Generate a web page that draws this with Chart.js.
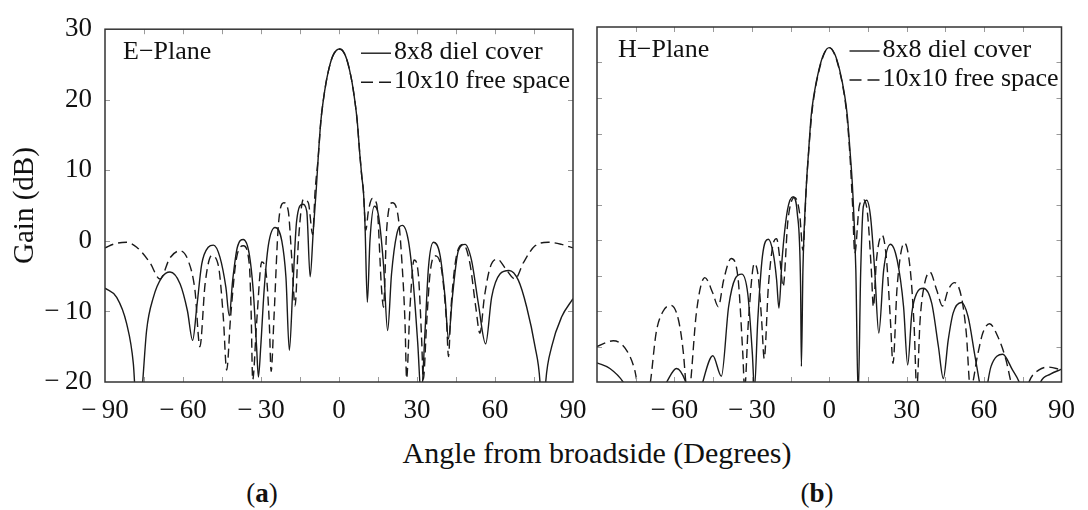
<!DOCTYPE html>
<html lang="en">
<head>
<meta charset="UTF-8">
<title>Gain | E-Plane / H-Plane</title>
<script src="https://cdn.jsdelivr.net/npm/chart.js"></script>
<style>
  body { margin: 0; background: #fff; width: 1088px; height: 510px; overflow: hidden; position: relative;
         font-family: "Liberation Serif", "DejaVu Serif", serif; color: #111; }
  canvas { position: absolute; top: 0; }
  #chartE { left: 0; }
  #chartH { left: 560px; }
  .lbl { position: absolute; white-space: nowrap; transform: translate(-50%, -50%); }
</style>
</head>
<body>
<canvas id="chartE" width="600" height="422"></canvas>
<canvas id="chartH" width="528" height="422"></canvas>
<div class="lbl" style="left:597px; top:453px; font-size:30px">Angle from broadside (Degrees)</div>
<div class="lbl" style="left:262px; top:493px; font-size:27px">(<b>a</b>)</div>
<div class="lbl" style="left:817px; top:493px; font-size:27px">(<b>b</b>)</div>
<script>
// values (angle in degrees, gain in dB)
const eCoverAngle = [-90, -85.5, -81.7, -79.1, -77.2, -75.5, -74, -71.4, -68.2, -65, -61.1, -58.3, -56.3, -54.7, -52.8, -50.3, -48.3, -45.8, -43.5, -42.2, -40.9, -39.1, -36.8, -34.5, -33, -31.7, -31, -30.1, -28.8, -27.2, -24.6, -22, -20.4, -19.1, -17.8, -16.3, -14, -12.4, -11.1, -9.9, -8.8, -8, -7, -6, -5, -4, -3, -2, -1, 0, 1, 2, 3, 4, 5, 6, 7, 8, 8.8, 9.4, 10, 10.9, 11.9, 13.6, 15.1, 17.1, 18.7, 20.2, 22.2, 24.4, 26.7, 28.6, 30.3, 31.6, 33.1, 34.4, 36.3, 38.8, 40.8, 42.1, 43.6, 45.9, 48.5, 51, 53.6, 56.4, 58.7, 61.9, 65.4, 69, 72.2, 75.4, 77.3, 78.3, 79.5, 81.8, 85.6, 90];
const eCoverGain = [-6.7, -8, -11.7, -17.4, -28, -20, -12.7, -8, -5.2, -4.4, -6.1, -9.9, -14.1, -9.4, -3.3, -0.9, -0.6, -2.3, -6.6, -10.6, -5.6, -0.9, 0.2, -1.9, -7, -15, -19.3, -15, -7, -0.7, 1.9, 0, -5.2, -15.5, -7, 2.8, 5.2, 4.2, -5.1, 1.4, 7, 11.8, 16.9, 20, 22.4, 24.2, 25.6, 26.5, 27, 27.2, 27.1, 26.6, 25.7, 24.3, 22.5, 20.1, 17, 12.3, 9, 7, 2.3, -8.7, 0, 4.9, 3.8, -3.3, -12.7, -4.7, 0.9, 2.2, 0, -6.1, -14.6, -22, -12.7, -3.8, -0.2, -1.9, -8, -13.9, -8, -1.4, -0.5, -2.8, -8.9, -14.6, -8, -4.7, -4.2, -5.6, -9.4, -15, -20, -28, -20, -15, -10.8, -8.2];

const eFreeAngle = [-90, -86.2, -81.7, -77.8, -72.7, -68.9, -65, -61.1, -58, -55.4, -53.5, -51.5, -49, -46.4, -44.5, -43.2, -41.7, -39.4, -36.8, -34.5, -33.8, -33.2, -31.7, -29.7, -28, -26.8, -26.1, -25, -23.3, -21.2, -19.5, -18.2, -16.9, -15.6, -13.7, -11.8, -10.1, -9.2, -8, -7, -6, -5, -4, -3, -2, -1, 0, 1, 2, 3, 4, 5, 6, 7, 8, 8.8, 9.4, 10.3, 11.3, 12.8, 14.5, 16.4, 17.1, 18.3, 20.5, 22.8, 24.1, 25.4, 26, 27.3, 28.9, 30.5, 31.8, 32.4, 33.7, 35, 36.9, 39.5, 41.4, 42.1, 43.1, 45.3, 47.8, 50.4, 52.6, 54.2, 55.9, 58.1, 61, 63.8, 67.7, 70.9, 75.4, 80.5, 85.6, 90];
const eFreeGain = [-1, -0.4, -0.2, -0.9, -3.1, -5.4, -2.4, -1.4, -2.8, -7, -15, -6.1, -2.1, -3.5, -10.8, -18.3, -10.8, -2.4, -0.7, -3.3, -10, -19.7, -11.7, -3, -4.7, -11.7, -18.5, -10.8, 2.3, 5.4, 4.2, -2.3, -9.2, 0, 5.9, 5.4, 0.9, 7, 11.8, 16.9, 20, 22.4, 24.2, 25.6, 26.5, 27, 27.2, 27.1, 26.6, 25.7, 24.3, 22.5, 20.1, 17, 12.3, 9, 7, 1.5, 4.2, 6, 5.2, -7, -9.4, 1.4, 5.4, 3.3, -2.4, -11.7, -19.5, -9.4, -2.7, -4.7, -14.1, -19.7, -11.7, -4.7, -2.1, -4.2, -11.7, -16.4, -9.4, -1.9, -0.5, -3.3, -9.4, -13.1, -8, -3.8, -2.6, -3.8, -5.4, -3.1, -0.7, -0.2, -0.5, -1];

const hCoverAngle = [-90, -85, -79.9, -72, -63, -59.2, -55.6, -52, -49, -45.1, -41.8, -39, -36.4, -33.9, -31.6, -29.8, -29, -27.7, -25.9, -23.6, -21.7, -20.4, -19.5, -18.3, -16.2, -14, -12.4, -11.1, -10.8, -10.2, -8.9, -8, -7, -6, -4, -2, 0, 2, 4, 6, 7, 8, 9, 10.3, 11.2, 12.2, 13.2, 14.5, 16, 17.6, 19.2, 21.1, 23.7, 26.3, 28.8, 30.4, 32, 33.9, 36.5, 39.7, 42.3, 44.2, 46.1, 48, 51.2, 53.8, 56.3, 58.2, 59.5, 62.7, 67.2, 71, 73.6, 78, 81.9, 85.7, 90];
const hCoverGain = [-17.3, -18.1, -20, -26, -20, -18.1, -20, -25, -20, -16.3, -19.2, -9.4, -5.4, -4.8, -7.5, -16, -21, -11.3, -2.3, 0.1, -1.9, -5.6, -9.6, -2.8, 4.2, 6.1, 3.8, -6.6, -17.8, -4.2, 7.5, 12.5, 17.5, 20.3, 24, 26.3, 27.1, 26.3, 24, 20.3, 17.5, 12.8, 7.5, -4.2, -22, -4.2, 4.7, 5.6, 3.3, -4.2, -13.1, -4.2, -0.6, -2.8, -9.4, -17.6, -10.3, -7.5, -6.8, -8.9, -15, -19.5, -14.1, -10.3, -8.8, -10.8, -16, -20, -23, -17.8, -16.1, -18.3, -20, -25, -20, -18.9, -18.2];

const hFreeAngle = [-90, -83.7, -78.6, -75.4, -74.5, -72, -69.3, -67.1, -64.5, -61.4, -58.4, -56.5, -55.6, -54.6, -53.7, -51.5, -48.2, -45.1, -43, -40.9, -38, -35.4, -33.5, -32.8, -31.3, -29, -27.5, -26.2, -25.2, -23.6, -21.7, -20.4, -19.1, -17.9, -16, -13.4, -11.5, -10.2, -8.9, -8, -7, -6, -4, -2, 0, 2, 4, 6, 7, 8, 9, 9.9, 11.6, 13.2, 14.8, 16.3, 17.1, 18.3, 20.5, 22.2, 23.7, 24.7, 26.3, 29.1, 31.4, 32.9, 33.9, 35.2, 36.7, 39, 41.6, 43.9, 46.1, 48.6, 51.2, 53.1, 54.7, 57.6, 59.5, 62.1, 65.3, 68.5, 70.4, 74, 77.4, 81.3, 85.1, 90];
const hFreeGain = [-15, -14.2, -15.5, -18.3, -20, -25, -20, -13.1, -10.1, -9.2, -11.3, -16, -20, -23, -20, -10.3, -5.3, -7.5, -9.4, -5.6, -2.6, -5.2, -16, -21, -11.3, -3.3, -5.2, -11.3, -16.7, -6.6, -0.5, 0.2, -2.8, -6.6, 2.8, 6, 3.8, -1.4, 7.5, 12.3, 16.9, 20, 23.8, 26.2, 27.1, 26.2, 23.8, 20, 16.9, 12, 5.2, -1.9, 4.7, 5.7, 3.8, -4.2, -9.4, -2.8, 0.7, -2.8, -11.3, -17.4, -6.6, -0.4, -4.2, -12.2, -21, -11.3, -6.6, -4.5, -7, -9.3, -7, -6, -8, -13.1, -21, -16, -13.1, -11.8, -13.6, -16.9, -20, -25, -20, -18.3, -17.9, -18.3];

const xLabelValues = [-90, -60, -30, 0, 30, 60, 90];
const yLabelValues = [-20, -10, 0, 10, 20, 30];

function pts(ang, gain) {
    return ang.map(function (a, i) { return { x: a, y: gain[i] }; });
}
function fmt(v) {
    return v < 0 ? '\u2212\u2009' + Math.abs(v) : String(v);
}

// frame, inner ticks, panel name and legend inside the plot box
const boxPlugin = {
    id: 'box',
    afterDraw(chart, args, opts) {
        const ctx = chart.ctx;
        const a = chart.chartArea;
        const x = chart.scales.x, y = chart.scales.y;
        ctx.save();
        ctx.strokeStyle = '#9a9a9a';
        ctx.lineWidth = 1;
        ctx.beginPath();
        x.ticks.forEach(function (t) {
            const px = Math.round(x.getPixelForValue(t.value)) + 0.5;
            if (px < a.left + 2 || px > a.right - 2) return;
            ctx.moveTo(px, a.bottom); ctx.lineTo(px, a.bottom - 5);
            ctx.moveTo(px, a.top); ctx.lineTo(px, a.top + 5);
        });
        y.ticks.forEach(function (t) {
            const py = Math.round(y.getPixelForValue(t.value)) + 0.5;
            if (py < a.top + 2 || py > a.bottom - 2) return;
            ctx.moveTo(a.left, py); ctx.lineTo(a.left + 5, py);
            ctx.moveTo(a.right, py); ctx.lineTo(a.right - 5, py);
        });
        ctx.stroke();

        ctx.strokeStyle = '#333';
        ctx.lineWidth = 1.5;
        ctx.strokeRect(a.left, a.top, a.right - a.left, a.bottom - a.top);

        ctx.fillStyle = '#111';
        ctx.font = '26px "Liberation Serif"';
        ctx.textBaseline = 'middle';
        ctx.fillText(opts.plane, a.left + opts.planeDx, a.top + 23);

        chart.data.datasets.forEach(function (ds, i) {
            const yy = a.top + 23 + i * 29;
            const x0 = a.right - 212;
            ctx.strokeStyle = '#1a1a1a';
            ctx.lineWidth = 1.4;
            ctx.setLineDash(ds.borderDash ? [12, 6] : []);
            ctx.beginPath();
            ctx.moveTo(x0, yy + 1); ctx.lineTo(x0 + 30, yy + 1);
            ctx.stroke();
            ctx.setLineDash([]);
            ctx.fillText(ds.label, x0 + 33, yy);
        });
        ctx.restore();
    }
};

function makeChart(id, cover, free, opt) {
    const tickFont = { family: 'Liberation Serif', size: 27 };
    return new Chart(document.getElementById(id), {
        type: 'line',
        data: {
            datasets: [
                { label: '8x8 diel cover', data: cover, borderColor: '#1a1a1a', borderWidth: 1.4,
                  pointRadius: 0, cubicInterpolationMode: 'monotone', clip: 0 },
                { label: '10x10 free space', data: free, borderColor: '#1a1a1a', borderWidth: 1.4,
                  borderDash: [9, 5], pointRadius: 0, cubicInterpolationMode: 'monotone', clip: 0 }
            ]
        },
        options: {
            responsive: false,
            animation: false,
            layout: { padding: { top: 27, right: opt.padRight, left: 0, bottom: 0 } },
            plugins: {
                legend: { display: false },
                tooltip: { enabled: false },
                box: { plane: opt.plane, planeDx: opt.planeDx }
            },
            scales: {
                x: {
                    type: 'linear', min: -90, max: 90,
                    afterFit: function (s) { s.height = 40; },
                    grid: { display: false, drawTicks: false },
                    border: { display: false },
                    ticks: {
                        stepSize: 15, autoSkip: false, maxRotation: 0, padding: 13,
                        color: '#111', font: tickFont,
                        callback: function (v) {
                            if (xLabelValues.indexOf(v) < 0) return '';
                            if (opt.hideFirst && v === -90) return '';
                            return fmt(v);
                        }
                    }
                },
                y: {
                    min: -20, max: 30,
                    afterFit: function (s) { s.width = opt.yWidth; },
                    grid: { display: false, drawTicks: false },
                    border: { display: false },
                    title: {
                        display: opt.yTitle, text: 'Gain (dB)', color: '#111',
                        font: { family: 'Liberation Serif', size: 29 },
                        padding: { top: 8, bottom: 0 }
                    },
                    ticks: {
                        stepSize: 5, padding: 13, display: opt.yLabels,
                        color: '#111', font: tickFont,
                        callback: function (v) { return yLabelValues.indexOf(v) < 0 ? '' : fmt(v); }
                    }
                }
            }
        },
        plugins: [boxPlugin]
    });
}

makeChart('chartE', pts(eCoverAngle, eCoverGain), pts(eFreeAngle, eFreeGain),
    { padRight: 27, yWidth: 105, yTitle: true, yLabels: true, hideFirst: false, plane: 'E\u2212Plane', planeDx: 18 });
makeChart('chartH', pts(hCoverAngle, hCoverGain), pts(hFreeAngle, hFreeGain),
    { padRight: 22, yWidth: 37, yTitle: false, yLabels: false, hideFirst: true, plane: 'H\u2212Plane', planeDx: 21 });
</script>
</body>
</html>
